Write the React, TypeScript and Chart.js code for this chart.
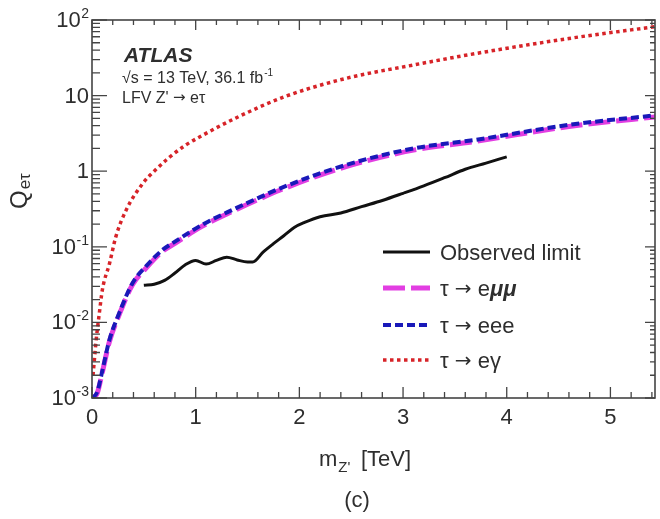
import React, { useEffect, useRef } from "react";
import { Chart, registerables } from "chart.js";

Chart.register(...registerables);

// ---------------- data ----------------
const massEGamma = [0.01, 0.04, 0.07, 0.1, 0.17, 0.23, 0.33, 0.49, 0.6, 0.74, 0.9, 1.06, 1.38, 1.86, 2.45, 3.1, 3.7, 4.6, 5.5];
const qEGamma = [0.002, 0.0058, 0.013, 0.027, 0.061, 0.136, 0.307, 0.69, 1.0, 1.5, 2.2, 2.95, 5.0, 9.7, 16.9, 25.4, 36, 57, 84];

const massEee = [0.0, 0.05, 0.1, 0.167, 0.26, 0.39, 0.52, 0.68, 0.8, 1.06, 1.38, 1.6, 1.81, 2.45, 3.1, 3.7, 4.6, 5.5];
const qEee = [0.001, 0.0012, 0.0023, 0.0058, 0.013, 0.033, 0.055, 0.091, 0.117, 0.195, 0.32, 0.44, 0.59, 1.21, 2.0, 2.6, 4.1, 5.6];
const qEmumu = [0.001, 0.00115, 0.0022, 0.0055, 0.0124, 0.0315, 0.052, 0.087, 0.111, 0.186, 0.305, 0.42, 0.56, 1.15, 1.9, 2.48, 3.9, 5.35];

const massObs = [0.5, 0.6, 0.7, 0.8, 0.9, 1.0, 1.1, 1.2, 1.3, 1.4, 1.5, 1.55, 1.65, 1.75, 1.85, 1.95, 2.05, 2.2, 2.4, 2.6, 2.8, 3.0, 3.2, 3.4, 3.6, 3.8, 4.0];
const qObs = [0.031, 0.032, 0.036, 0.045, 0.058, 0.066, 0.059, 0.066, 0.073, 0.067, 0.063, 0.063, 0.085, 0.11, 0.14, 0.18, 0.21, 0.25, 0.28, 0.34, 0.41, 0.51, 0.64, 0.82, 1.06, 1.28, 1.55];

const seriesLabels = ["Observed limit", "τ → eμμ", "τ → eee", "τ → eγ"];

const xTickValues = [0, 1, 2, 3, 4, 5];
const xTickLabels = ["0", "1", "2", "3", "4", "5"];
const yTickDecades = [-3, -2, -1, 0, 1, 2];
const yTickBase = ["10", "10", "10", "1", "10", "10"];
const yTickExp = ["-3", "-2", "-1", "", "", "2"];

const X_MIN = 0;
const X_MAX = 5.43;
const Y_MIN = 0.001;
const Y_MAX = 100;

// ---------------- style ----------------
const FONT = '"Liberation Sans", Arial, Helvetica, sans-serif';
const ARROW_FONT = '"DejaVu Sans", sans-serif';
const TEXT = "#2e2e2e";
const AXIS = "#444";

const pts = (xs: number[], ys: number[]) => xs.map((x, i) => ({ x, y: ys[i] }));

// draw a sequence of [text, font, dy] runs starting at x; returns end x
function drawRuns(ctx: any, runs: [string, string, number][], x: number, y: number) {
  let cx = x;
  for (const [t, f, dy] of runs) {
    ctx.font = f;
    ctx.fillText(t, cx, y + dy);
    cx += ctx.measureText(t).width;
  }
  return cx;
}

const overlay = {
  id: "overlay",
  beforeDraw(chart: any) {
    const { ctx, width, height } = chart;
    ctx.save();
    ctx.fillStyle = "#ffffff";
    ctx.fillRect(0, 0, width, height);
    ctx.restore();
  },
  afterDatasetsDraw(chart: any) {
    const { ctx, chartArea: a, scales } = chart;
    const xs = scales.x;
    const ys = scales.y;
    ctx.save();

    // frame
    ctx.strokeStyle = AXIS;
    ctx.lineWidth = 1.6;
    ctx.setLineDash([]);
    ctx.strokeRect(a.left, a.top, a.right - a.left, a.bottom - a.top);

    // x ticks (inward, bottom & top)
    ctx.beginPath();
    ctx.lineWidth = 1.3;
    const nMinor = Math.floor((X_MAX - X_MIN) / 0.2 + 1e-6);
    for (let i = 0; i <= nMinor; i++) {
      const v = X_MIN + i * 0.2;
      const major = Math.abs(v - Math.round(v)) < 1e-6;
      const px = xs.getPixelForValue(v);
      const lb = major ? 11 : 6;
      const lt = major ? 10 : 5;
      ctx.moveTo(px, a.bottom);
      ctx.lineTo(px, a.bottom - lb);
      ctx.moveTo(px, a.top);
      ctx.lineTo(px, a.top + lt);
    }
    // y ticks (inward, left & right)
    for (const d of yTickDecades) {
      for (let m = 1; m <= 9; m++) {
        const v = m * Math.pow(10, d);
        if (v > Y_MAX * 1.0001) break;
        const py = ys.getPixelForValue(v);
        const major = m === 1;
        const ll = major ? 15 : 8;
        const lr = major ? 10 : 5;
        ctx.moveTo(a.left, py);
        ctx.lineTo(a.left + ll, py);
        ctx.moveTo(a.right, py);
        ctx.lineTo(a.right - lr, py);
      }
    }
    ctx.stroke();

    // x tick labels
    ctx.fillStyle = TEXT;
    ctx.font = `22px ${FONT}`;
    ctx.textAlign = "center";
    ctx.textBaseline = "alphabetic";
    xTickValues.forEach((v, i) => {
      ctx.fillText(xTickLabels[i], xs.getPixelForValue(v), 424);
    });

    // y tick labels
    const rightEdge = 89;
    yTickDecades.forEach((d, i) => {
      const py = ys.getPixelForValue(Math.pow(10, d));
      const base = yTickBase[i];
      const exp = yTickExp[i];
      ctx.textAlign = "left";
      ctx.font = `14px ${FONT}`;
      const ew = exp ? ctx.measureText(exp).width : 0;
      ctx.font = `22px ${FONT}`;
      const bw = ctx.measureText(base).width;
      const bx = rightEdge - ew - bw - (exp ? 0.5 : 0);
      ctx.textBaseline = "middle";
      ctx.fillText(base, bx, py + 1);
      if (exp) {
        ctx.font = `14px ${FONT}`;
        ctx.textBaseline = "alphabetic";
        ctx.fillText(exp, rightEdge - ew, py - 2);
      }
    });

    // x axis title: m_Z' [TeV]
    ctx.textBaseline = "alphabetic";
    ctx.textAlign = "left";
    ctx.font = `22px ${FONT}`;
    const mX = 319;
    ctx.fillText("m", mX, 466);
    const mW = ctx.measureText("m").width;
    ctx.font = `15px ${FONT}`;
    ctx.fillText("Z'", mX + mW + 1, 472);
    ctx.font = `22px ${FONT}`;
    ctx.fillText("[TeV]", 361, 466);

    // (c)
    ctx.textAlign = "center";
    ctx.fillText("(c)", 357, 507);

    // y axis title: Q_eτ (rotated)
    ctx.save();
    ctx.translate(27, 209);
    ctx.rotate(-Math.PI / 2);
    ctx.textAlign = "left";
    ctx.font = `24px ${FONT}`;
    ctx.fillText("Q", 0, 0);
    const qW = ctx.measureText("Q").width;
    ctx.font = `17px ${FONT}`;
    ctx.fillText("eτ", qW + 1, 3);
    ctx.restore();

    // ATLAS label block
    ctx.textAlign = "left";
    ctx.font = `italic bold 21px ${FONT}`;
    ctx.fillText("ATLAS", 124, 62);
    ctx.font = `16px ${FONT}`;
    const l2 = "√s = 13 TeV, 36.1 fb";
    ctx.fillText(l2, 122, 83);
    const l2w = ctx.measureText(l2).width;
    ctx.font = `10px ${FONT}`;
    ctx.fillText("-1", 122 + l2w + 1, 76);
    drawRuns(
      ctx,
      [
        ["LFV Z' ", `16px ${FONT}`, 0],
        ["→", `15px ${ARROW_FONT}`, -1],
        [" eτ", `16px ${FONT}`, 0],
      ],
      122,
      103
    );

    // legend
    const legendRows = [0, 1, 2, 3];
    const legendY = [252, 288, 325, 360];
    const sx0 = 383;
    const sx1 = 430;
    const tx = 440;
    const tails = ["", "e", "eee", "eγ"];
    legendRows.forEach((di, r) => {
      const ds = chart.data.datasets[di];
      const y = legendY[r];
      ctx.save();
      ctx.strokeStyle = ds.borderColor;
      ctx.lineWidth = ds.borderWidth;
      ctx.setLineDash(ds.borderDash || []);
      ctx.beginPath();
      ctx.moveTo(sx0, y);
      ctx.lineTo(sx1, y);
      ctx.stroke();
      ctx.restore();
      ctx.fillStyle = TEXT;
      ctx.textBaseline = "alphabetic";
      ctx.textAlign = "left";
      const base = y + 8;
      if (di === 0) {
        ctx.font = `22px ${FONT}`;
        ctx.fillText(seriesLabels[0], tx, base);
      } else {
        const runs: [string, string, number][] = [
          ["τ ", `22px ${FONT}`, 0],
          ["→", `20px ${ARROW_FONT}`, -1],
          [" " + tails[di], `22px ${FONT}`, 0],
        ];
        if (di === 1) runs.push(["μμ", `italic bold 22px ${FONT}`, 0]);
        drawRuns(ctx, runs, tx, base);
      }
    });

    ctx.restore();
  },
};

export default function App() {
  const canvasRef = useRef<HTMLCanvasElement | null>(null);

  useEffect(() => {
    document.body.style.margin = "0";
    const canvas = canvasRef.current;
    if (!canvas) return;
    const chart = new Chart(canvas, {
      type: "line",
      data: {
        datasets: [
          {
            label: seriesLabels[0],
            data: pts(massObs, qObs),
            borderColor: "#111111",
            borderWidth: 3,
            pointRadius: 0,
            cubicInterpolationMode: "monotone",
            order: 0,
          },
          {
            label: seriesLabels[1],
            data: pts(massEee, qEmumu),
            borderColor: "rgb(226,62,226)",
            borderWidth: 5,
            borderDash: [22, 6],
            pointRadius: 0,
            cubicInterpolationMode: "monotone",
            order: 3,
          },
          {
            label: seriesLabels[2],
            data: pts(massEee, qEee),
            borderColor: "rgb(25,25,185)",
            borderWidth: 4,
            borderDash: [8, 4],
            pointRadius: 0,
            cubicInterpolationMode: "monotone",
            order: 2,
          },
          {
            label: seriesLabels[3],
            data: pts(massEGamma, qEGamma),
            borderColor: "rgb(215,35,40)",
            borderWidth: 3.5,
            borderDash: [3.5, 3.5],
            pointRadius: 0,
            cubicInterpolationMode: "monotone",
            order: 1,
          },
        ],
      } as any,
      options: {
        responsive: false,
        animation: false,
        devicePixelRatio: 1,
        layout: { padding: { left: 92, right: 5, top: 20, bottom: 121 } },
        plugins: { legend: { display: false }, tooltip: { enabled: false } },
        events: [],
        scales: {
          x: { type: "linear", min: X_MIN, max: X_MAX, display: false },
          y: { type: "logarithmic", min: Y_MIN, max: Y_MAX, display: false },
        },
      } as any,
      plugins: [overlay],
    });
    return () => chart.destroy();
  }, []);

  return <canvas ref={canvasRef} width={660} height={519} style={{ display: "block" }} />;
}
